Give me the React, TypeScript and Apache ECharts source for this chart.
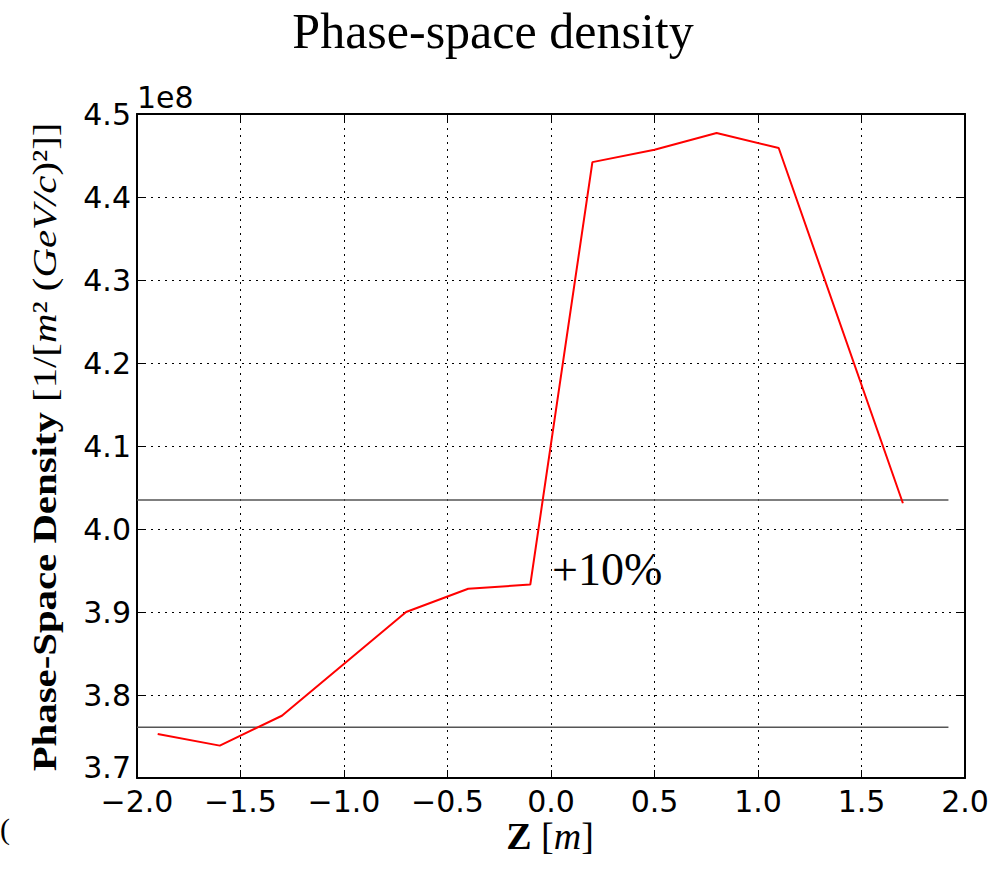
import React, { useEffect, useRef } from "react";
import * as echarts from "echarts";

const zPositions = [-1.9, -1.6, -1.3, -0.7, -0.4, -0.1, 0.2, 0.5, 0.8, 1.1, 1.7];
const densityValues = [3.753e8, 3.739e8, 3.775e8, 3.9e8, 3.928e8, 3.933e8, 4.442e8, 4.457e8, 4.477e8, 4.459e8, 4.031e8];
const refLineX = [-2.0, 1.92];
const upperRef = 4.035e8;
const lowerRef = 3.761e8;
const xTicks = { min: -2, max: 2, interval: 0.5 };
const yTicks = { min: 3.7e8, max: 4.5e8, interval: 1e7 };

const tickFont = "DejaVu Sans";
const serif = "Liberation Serif";

export default function App() {
  const ref = useRef<HTMLDivElement>(null);
  useEffect(() => {
    if (!ref.current) return;
    const chart = echarts.init(ref.current, null, { renderer: "svg" });
    const fmtX = (v: number) => (v < 0 ? "\u2212" + Math.abs(v).toFixed(1) : v.toFixed(1));
    const fmtY = (v: number) => {
      const s = (v / 1e8).toFixed(1);
      return v <= yTicks.min ? "{lo|" + s + "}" : s;
    };
    const axisLine = { show: true, onZero: false, lineStyle: { color: "#000", width: 2 } };
    const tick = { show: true, inside: true, length: 8, lineStyle: { color: "#000", width: 1 } };
    const dotted = { show: true, lineStyle: { color: "#000", width: 1, type: [2, 5] as any } };
    chart.setOption({
      animation: false,
      backgroundColor: "#fff",
      grid: { left: 137, right: 36, top: 114, bottom: 92 },
      xAxis: [
        {
          type: "value", ...xTicks, position: "bottom",
          axisLine, axisTick: tick, splitLine: dotted,
          axisLabel: { formatter: fmtX, fontFamily: tickFont, fontSize: 30, color: "#000", margin: 8 },
        },
        {
          type: "value", ...xTicks, position: "top",
          axisLine, axisTick: tick, splitLine: { show: false },
          axisLabel: { show: false },
        },
      ],
      yAxis: [
        {
          type: "value", ...yTicks, position: "left",
          axisLine, axisTick: tick, splitLine: dotted,
          axisLabel: {
            formatter: fmtY, fontFamily: tickFont, fontSize: 30, color: "#000", margin: 6,
            rich: { lo: { fontFamily: tickFont, fontSize: 30, color: "#000", padding: [0, 0, 22, 0] } },
          },
        },
        {
          type: "value", ...yTicks, position: "right",
          axisLine, axisTick: tick, splitLine: { show: false },
          axisLabel: { show: false },
        },
      ],
      series: [
        {
          type: "line", xAxisIndex: 0, yAxisIndex: 0, showSymbol: false, silent: true,
          data: refLineX.map((x) => [x, upperRef]),
          lineStyle: { color: "#555", width: 1.5 },
        },
        {
          type: "line", xAxisIndex: 0, yAxisIndex: 0, showSymbol: false, silent: true,
          data: refLineX.map((x) => [x, lowerRef]),
          lineStyle: { color: "#555", width: 1.5 },
        },
        {
          type: "line", xAxisIndex: 0, yAxisIndex: 0, showSymbol: false,
          data: zPositions.map((z, i) => [z, densityValues[i]]),
          lineStyle: { color: "#ff0000", width: 2 },
        },
      ],
      graphic: [
        {
          type: "text", x: 493, y: 31,
          style: { text: "Phase-space density", fontFamily: serif, fontSize: 50, fill: "#000", align: "center", verticalAlign: "middle" },
        },
        {
          type: "text", x: 137, y: 112,
          style: { text: "1e8", fontFamily: tickFont, fontSize: 30, fill: "#000", align: "left", verticalAlign: "bottom" },
        },
        {
          type: "text", x: 552, y: 569,
          style: { text: "+10%", fontFamily: serif, fontSize: 46, fill: "#000", align: "left", verticalAlign: "middle" },
        },
        {
          type: "text", x: 550, y: 836,
          style: {
            text: "{b|Z}{n|\u00a0[}{i|m}{n|]}",
            align: "center", verticalAlign: "middle",
            rich: {
              b: { fontFamily: serif, fontWeight: "bold", fontSize: 38, fill: "#000" },
              n: { fontFamily: serif, fontSize: 38, fill: "#000" },
              i: { fontFamily: serif, fontStyle: "italic", fontSize: 38, fill: "#000" },
            },
          },
        },
        {
          type: "text", x: 45, y: 447, rotation: Math.PI / 2, scaleX: 1.2,
          style: {
            text: "{b|Phase-Space Density}{n|\u00a0[1/[}{i|m}{n|\u00b2\u00a0(}{i|GeV/c}{n|)\u00b2]]}",
            align: "center", verticalAlign: "middle",
            rich: {
              b: { fontFamily: serif, fontWeight: "bold", fontSize: 34, fill: "#000" },
              n: { fontFamily: serif, fontSize: 34, fill: "#000" },
              i: { fontFamily: serif, fontStyle: "italic", fontSize: 34, fill: "#000" },
            },
          },
        },
        {
          type: "text", x: 0, y: 828,
          style: { text: "(", fontFamily: serif, fontSize: 30, fill: "#000", align: "left", verticalAlign: "middle" },
        },
      ],
    });
    return () => chart.dispose();
  }, []);
  return (
    <div
      ref={ref}
      style={{ position: "fixed", left: 0, top: 0, width: 1001, height: 870, background: "#fff" }}
    />
  );
}
